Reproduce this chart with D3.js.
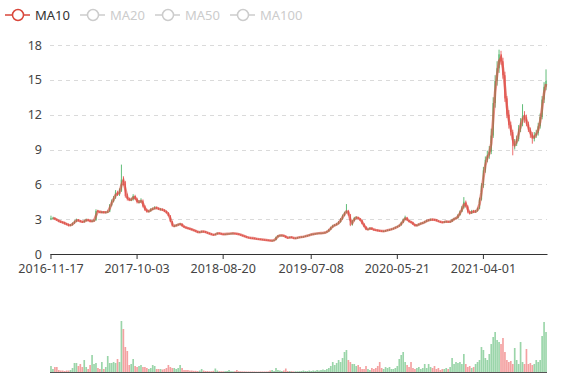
<!DOCTYPE html>
<html><head><meta charset="utf-8">
<script src="https://cdn.jsdelivr.net/npm/d3@7/dist/d3.min.js"></script>
<style>body{margin:0;background:#fff}svg{display:block}</style>
</head><body><svg id="c" width="577" height="380"></svg>
<script>
// ---------- data (weekly candles) ----------
const tickLabels = ["2016-11-17","2017-10-03","2018-08-20","2019-07-08","2020-05-21","2021-04-01"];
const tickIndex  = [0,44,88,133,177,221];
const yTicks = [0,3,6,9,12,15,18];
const legendNames = ["MA10","MA20","MA50","MA100"];
const activeLegend = ["MA10"];
const maWindow = 2; // 2 weekly candles ~ 10 trading days

const opens = [
3.0,3.1,3.1,3.0,2.9,2.8,2.75,2.7,2.6,2.55,
2.45,2.5,2.65,2.8,2.95,2.85,2.8,2.75,2.85,2.95,
2.9,2.8,2.85,2.9,3.7,3.65,3.6,3.62,3.58,3.6,
3.65,4.2,4.55,4.85,5.3,5.1,5.45,6.4,6.2,5.0,
4.75,4.65,4.7,5.0,4.75,4.45,4.5,4.6,4.1,3.8,
3.65,3.7,3.85,3.9,4.0,3.95,3.85,3.85,3.78,3.68,
3.55,3.3,2.8,2.4,2.42,2.5,2.55,2.6,2.4,2.3,
2.25,2.2,2.15,2.08,2.02,1.95,1.86,1.9,1.95,1.93,
1.86,1.8,1.74,1.68,1.65,1.72,1.8,1.78,1.72,1.7,
1.72,1.74,1.76,1.77,1.78,1.76,1.74,1.68,1.62,1.56,
1.5,1.43,1.4,1.38,1.36,1.33,1.3,1.28,1.26,1.24,
1.22,1.2,1.18,1.15,1.16,1.2,1.45,1.58,1.6,1.6,
1.55,1.42,1.38,1.47,1.4,1.35,1.38,1.42,1.45,1.48,
1.5,1.55,1.6,1.65,1.7,1.72,1.76,1.78,1.8,1.8,
1.82,1.86,1.95,2.1,2.3,2.45,2.5,2.6,2.75,3.0,
3.3,3.55,3.75,3.4,2.5,2.85,3.1,3.15,3.05,2.9,
2.6,2.35,2.1,2.15,2.25,2.12,2.08,2.05,2.02,2.0,
1.96,1.98,2.02,2.06,2.1,2.15,2.22,2.3,2.38,2.48,
2.7,2.95,3.15,2.9,2.78,2.72,2.55,2.42,2.5,2.58,
2.65,2.7,2.8,2.88,2.92,2.98,2.96,2.94,2.86,2.8,
2.74,2.72,2.78,2.8,2.76,2.8,2.95,3.05,3.1,3.35,
3.65,4.0,4.5,4.1,3.6,3.5,3.7,3.6,3.7,3.9,
4.7,5.9,7.2,8.1,8.5,8.8,10.2,13.0,14.9,16.0,
17.2,16.6,15.4,13.4,12.0,11.1,10.5,9.3,9.5,9.9,
10.8,11.3,11.9,11.8,11.2,10.7,10.3,9.9,10.2,10.4,
11.0,11.8,13.3,14.4];
const closes = [
3.1,3.1,3.0,2.9,2.8,2.75,2.7,2.6,2.55,2.45,
2.5,2.65,2.8,2.95,2.85,2.8,2.75,2.85,2.95,2.9,
2.8,2.85,2.9,3.7,3.65,3.6,3.62,3.58,3.6,3.65,
4.2,4.55,4.85,5.3,5.1,5.45,6.4,6.2,5.0,4.75,
4.65,4.7,5.0,4.75,4.45,4.5,4.6,4.1,3.8,3.65,
3.7,3.85,3.9,4.0,3.95,3.85,3.85,3.78,3.68,3.55,
3.3,2.8,2.4,2.42,2.5,2.55,2.6,2.4,2.3,2.25,
2.2,2.15,2.08,2.02,1.95,1.86,1.9,1.95,1.93,1.86,
1.8,1.74,1.68,1.65,1.72,1.8,1.78,1.72,1.7,1.72,
1.74,1.76,1.77,1.78,1.76,1.74,1.68,1.62,1.56,1.5,
1.43,1.4,1.38,1.36,1.33,1.3,1.28,1.26,1.24,1.22,
1.2,1.18,1.15,1.16,1.2,1.45,1.58,1.6,1.6,1.55,
1.42,1.38,1.47,1.4,1.35,1.38,1.42,1.45,1.48,1.5,
1.55,1.6,1.65,1.7,1.72,1.76,1.78,1.8,1.8,1.82,
1.86,1.95,2.1,2.3,2.45,2.5,2.6,2.75,3.0,3.3,
3.55,3.75,3.4,2.5,2.85,3.1,3.15,3.05,2.9,2.6,
2.35,2.1,2.15,2.25,2.12,2.08,2.05,2.02,2.0,1.96,
1.98,2.02,2.06,2.1,2.15,2.22,2.3,2.38,2.48,2.7,
2.95,3.15,2.9,2.78,2.72,2.55,2.42,2.5,2.58,2.65,
2.7,2.8,2.88,2.92,2.98,2.96,2.94,2.86,2.8,2.74,
2.72,2.78,2.8,2.76,2.8,2.95,3.05,3.1,3.35,3.65,
4.0,4.5,4.1,3.6,3.5,3.7,3.6,3.7,3.9,4.7,
5.9,7.2,8.1,8.5,8.8,10.2,13.0,14.9,16.0,17.2,
16.6,15.4,13.4,12.0,11.1,10.5,9.3,9.5,9.9,10.8,
11.3,11.9,11.8,11.2,10.7,10.3,9.9,10.2,10.4,11.0,
11.8,13.3,14.4,14.9];
const highs = [
3.3,3.2,3.15,3.05,2.95,2.88,2.82,2.78,2.68,2.62,
2.58,2.72,2.9,3.05,3.0,2.92,2.86,2.94,3.05,3.02,
2.95,2.92,2.98,3.85,3.8,3.72,3.7,3.7,3.68,3.75,
4.3,4.7,5.0,5.5,5.45,5.65,7.7,6.7,6.3,5.2,
4.85,4.85,5.15,5.1,4.85,4.65,4.8,4.7,4.2,3.9,
3.8,3.95,4.0,4.12,4.08,4.0,3.95,3.92,3.85,3.74,
3.6,3.35,2.85,2.5,2.56,2.62,2.68,2.64,2.45,2.36,
2.3,2.25,2.2,2.12,2.06,1.98,1.95,2.0,2.0,1.96,
1.9,1.84,1.78,1.72,1.76,1.85,1.84,1.8,1.76,1.76,
1.78,1.8,1.81,1.83,1.82,1.79,1.77,1.7,1.65,1.59,
1.53,1.46,1.43,1.41,1.39,1.35,1.33,1.31,1.29,1.27,
1.25,1.23,1.2,1.2,1.24,1.5,1.64,1.66,1.65,1.63,
1.58,1.46,1.5,1.5,1.43,1.41,1.45,1.48,1.52,1.54,
1.59,1.64,1.7,1.75,1.77,1.8,1.83,1.85,1.85,1.87,
1.9,2.0,2.16,2.36,2.52,2.58,2.68,2.84,3.1,3.4,
3.65,4.3,3.8,3.45,2.95,3.2,3.25,3.2,3.1,2.95,
2.65,2.4,2.2,2.3,2.28,2.16,2.12,2.1,2.06,2.04,
2.02,2.06,2.1,2.14,2.2,2.27,2.35,2.44,2.54,2.78,
3.05,3.3,3.2,2.95,2.85,2.78,2.6,2.56,2.64,2.71,
2.76,2.86,2.94,2.98,3.05,3.04,3.01,2.98,2.9,2.84,
2.8,2.84,2.86,2.85,2.86,3.02,3.12,3.18,3.45,3.75,
4.15,4.9,4.6,4.2,3.7,3.8,3.8,3.8,4.0,4.85,
6.1,7.5,8.4,8.9,9.3,10.8,13.5,15.4,16.6,17.6,
17.5,16.9,15.7,13.6,12.4,11.4,10.7,9.9,10.2,11.1,
11.7,12.9,12.3,12.0,11.4,10.9,10.5,10.5,10.7,11.3,
12.1,13.6,14.8,15.9];
const lows = [
2.92,3.0,2.92,2.84,2.74,2.68,2.62,2.54,2.48,2.38,
2.4,2.45,2.6,2.74,2.8,2.74,2.68,2.7,2.8,2.84,
2.74,2.75,2.8,2.88,3.58,3.52,3.52,3.5,3.5,3.55,
3.6,4.1,4.45,4.75,5.0,5.0,5.35,5.9,4.85,4.6,
4.55,4.55,4.6,4.65,4.35,4.35,4.4,4.0,3.7,3.55,
3.58,3.64,3.78,3.84,3.88,3.8,3.76,3.72,3.62,3.5,
3.25,2.75,2.35,2.34,2.38,2.45,2.5,2.36,2.26,2.2,
2.15,2.1,2.04,1.98,1.9,1.82,1.82,1.86,1.88,1.82,
1.76,1.7,1.64,1.61,1.62,1.68,1.74,1.68,1.66,1.67,
1.69,1.7,1.72,1.74,1.72,1.7,1.64,1.58,1.52,1.46,
1.4,1.37,1.35,1.33,1.3,1.27,1.25,1.23,1.21,1.19,
1.17,1.15,1.12,1.12,1.14,1.18,1.42,1.54,1.55,1.5,
1.39,1.35,1.36,1.38,1.32,1.32,1.35,1.39,1.42,1.45,
1.47,1.52,1.57,1.62,1.67,1.69,1.73,1.75,1.76,1.77,
1.79,1.83,1.92,2.06,2.26,2.4,2.45,2.55,2.7,2.95,
3.25,3.5,3.3,2.4,2.45,2.8,3.02,3.0,2.85,2.55,
2.3,2.05,2.05,2.1,2.08,2.02,2.0,1.97,1.95,1.91,
1.92,1.94,1.98,2.02,2.06,2.11,2.18,2.26,2.34,2.44,
2.66,2.9,2.85,2.72,2.66,2.5,2.37,2.39,2.46,2.53,
2.6,2.65,2.75,2.83,2.87,2.9,2.89,2.81,2.75,2.7,
2.67,2.68,2.73,2.71,2.71,2.75,2.9,3.0,3.05,3.3,
3.6,3.9,4.0,3.5,3.4,3.45,3.52,3.55,3.65,3.85,
4.6,5.7,7.0,7.9,8.2,8.6,10.0,12.6,14.5,15.6,
16.3,15.1,13.1,11.7,10.8,10.2,8.5,9.0,9.3,9.7,
10.5,11.0,11.3,11.0,10.5,10.0,9.5,9.7,10.0,10.2,
10.8,11.6,13.0,14.1];
const volumes = [
6,3,5,5,2,1.5,1.5,1,1.5,1.5,
2,4,9,9,6,8,5,12,5,3,
7,17,8,9,4,3,10,3,5,16,
9,9,10,9,13,10,51,43,25,21,
7,8,13,6,5,6,7,5,5,4,
3,4,7,6,3,3,3,2.5,3,4,
7,5,4,4,3,4,7,4,2,2,
2,1.5,1.5,1.2,1.2,1,1.5,3,1.5,1,
1,0.8,0.8,1.2,3.5,1.5,0.8,0.7,0.7,0.8,
1,2,0.8,0.7,0.8,2,0.8,0.7,0.6,0.6,
0.5,0.5,0.5,0.5,0.5,0.4,0.4,0.5,0.5,0.5,
0.5,0.6,1.5,2,1,4,2,1.5,1,1.5,
3.5,1,1,0.8,0.6,0.7,0.7,0.8,1,1.5,
1,1,1.5,1,1.5,1.2,2,1.5,2,2.5,
2,3,4,6,10,7,9,12,10,14,
20,22,12,10,8,8,6,7,5,3,
3,6,3,2,4,3,4,6,10,4,
3,5,4,5,3,3,4,6,13,17,
20,10,7,5,10,4,3,4,5,3,
4,8,4,8,5,4,6,3,4,2,
3,3,4,3,5,14,8,10,9,10,
8,18,8,5,6,4,5,8,10,12,
25,22,14,12,18,28,35,40,32,30,
28,34,20,12,10,11,8,24,12,8,
30,10,8,23,8,9,7,8,12,10,
12,36,50,40];

// ---------- drawing ----------
const N = closes.length;
const svg = d3.select("#c");
const FONT = "'Noto Sans', 'Open Sans', sans-serif";
const upColor = "#47b262", downColor = "#eb5454";
const maColor = "#d9463a";

const x = d3.scaleBand().domain(d3.range(N)).range([50, 547]);
const y = d3.scaleLinear().domain([0, 18]).range([254, 45]);
const yv = d3.scaleLinear().domain([0, d3.max(volumes)]).range([372, 321]);
const cx = i => x(i) + x.bandwidth() / 2;
const bw = Math.max(1, x.bandwidth() * 0.7);
const vbw = x.bandwidth() * 0.85;

// grid lines
svg.append("g").selectAll("line").data(yTicks.filter(t => t > 0)).join("line")
  .attr("x1", 50).attr("x2", 547)
  .attr("y1", d => Math.round(y(d)) + 0.5).attr("y2", d => Math.round(y(d)) + 0.5)
  .attr("stroke", "#dadada").attr("stroke-dasharray", "4,4").attr("stroke-width", 1);

// y axis labels
const yAxis = d3.axisLeft(y).tickValues(yTicks).tickSize(0).tickPadding(8);
const gy = svg.append("g").attr("transform", "translate(50,0)").call(yAxis);
gy.select(".domain").remove();
gy.selectAll("text").attr("font-family", FONT).attr("font-size", 12.5).attr("fill", "#444");

// x axis
const xAxis = d3.axisBottom(x).tickValues(tickIndex)
  .tickFormat(i => tickLabels[tickIndex.indexOf(i)]).tickSize(5).tickSizeOuter(0).tickPadding(5);
const gx = svg.append("g").attr("transform", "translate(0,254)").call(xAxis);
gx.select(".domain").attr("stroke", "#333");
gx.selectAll(".tick line").attr("stroke", "#333");
gx.selectAll("text").attr("font-family", FONT).attr("font-size", 12.5).attr("fill", "#444");

// volume bars
const idx = d3.range(N);
svg.append("g").selectAll("rect").data(idx).join("rect")
  .attr("x", i => cx(i) - vbw / 2).attr("width", vbw)
  .attr("y", i => yv(volumes[i])).attr("height", i => yv(0) - yv(volumes[i]))
  .attr("fill", i => closes[i] >= opens[i] ? upColor : downColor)
  .attr("opacity", 0.55);
svg.append("line").attr("x1", 50).attr("x2", 547).attr("y1", 372.5).attr("y2", 372.5)
  .attr("stroke", "#555").attr("stroke-width", 1);

// candles
const gc = svg.append("g").attr("opacity", 0.85);
gc.selectAll("line").data(idx).join("line")
  .attr("x1", cx).attr("x2", cx)
  .attr("y1", i => y(highs[i])).attr("y2", i => y(lows[i]))
  .attr("stroke", i => closes[i] >= opens[i] ? upColor : downColor).attr("stroke-width", 1);
gc.selectAll("rect").data(idx).join("rect")
  .attr("x", i => cx(i) - bw / 2).attr("width", bw)
  .attr("y", i => y(Math.max(opens[i], closes[i])))
  .attr("height", i => Math.max(1, Math.abs(y(opens[i]) - y(closes[i]))))
  .attr("fill", i => closes[i] >= opens[i] ? upColor : downColor);

// MA line
const ma = idx.map(i => i < maWindow - 1 ? null : d3.mean(closes.slice(i - maWindow + 1, i + 1)));
const line = d3.line().defined(d => d[1] != null).x(d => cx(d[0])).y(d => y(d[1]));
svg.append("path").datum(idx.map(i => [i, ma[i]]))
  .attr("d", line).attr("fill", "none").attr("stroke", maColor)
  .attr("stroke-width", 2.6).attr("opacity", 0.62);

// legend
const legendX = [5, 80, 155, 230];
const lg = svg.append("g").selectAll("g").data(legendNames).join("g")
  .attr("transform", (d, i) => `translate(${legendX[i]},15)`);
lg.append("line").attr("x1", 0).attr("x2", 25).attr("y1", 0).attr("y2", 0)
  .attr("stroke", d => activeLegend.includes(d) ? maColor : "#ccc").attr("stroke-width", 1.5);
lg.append("circle").attr("cx", 13).attr("cy", 0).attr("r", 5.5)
  .attr("fill", "#fff").attr("stroke", d => activeLegend.includes(d) ? maColor : "#ccc").attr("stroke-width", 1.5);
lg.append("text").attr("x", 30).attr("y", 0).attr("dy", "0.35em")
  .attr("font-family", FONT).attr("font-size", 13)
  .attr("fill", d => activeLegend.includes(d) ? "#333" : "#ccc").text(d => d);
</script></body></html>
